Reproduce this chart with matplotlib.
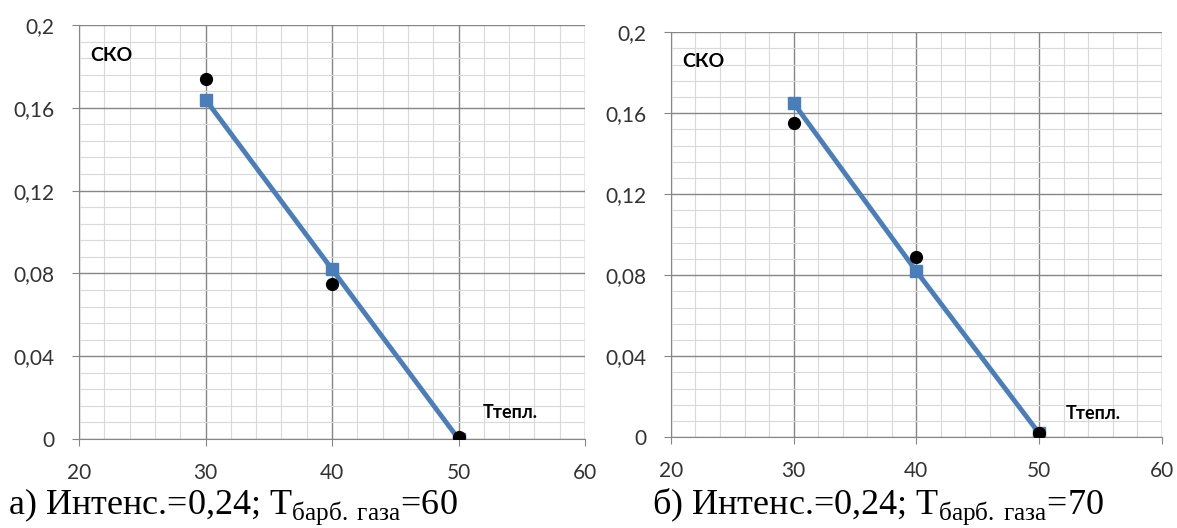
import numpy as np
import matplotlib.pyplot as plt
from matplotlib.ticker import MultipleLocator, FixedLocator

plt.rcParams['font.family'] = ['Lato', 'DejaVu Sans']
plt.rcParams['mathtext.fontset'] = 'custom'
plt.rcParams['mathtext.rm'] = 'Liberation Serif'

# data
x_temp = [30, 40, 50]
fit_a = [0.164, 0.082, 0.0]
meas_a = [0.174, 0.075, 0.001]
fit_b = [0.165, 0.082, 0.002]
meas_b = [0.155, 0.089, 0.002]

yticks = [0, 0.04, 0.08, 0.12, 0.16, 0.2]
ylabels = ['0', '0,04', '0,08', '0,12', '0,16', '0,2']
xticks = [20, 30, 40, 50, 60]

captions = [r'а) Интенс.=0,24; Т$_{\mathrm{барб.}\,\mathrm{газа}}$=60',
            r'б) Интенс.=0,24; Т$_{\mathrm{барб.}\,\mathrm{газа}}$=70']

fig = plt.figure(figsize=(11.77, 5.28), dpi=100)
ax_a = fig.add_axes([0.0671, 0.1686, 0.430, 0.784])
ax_b = fig.add_axes([0.570, 0.172, 0.417, 0.767])

blue = '#4a7ebb'

def draw(ax, fit, meas, lbl_pos):
    ax.set_xlim(20, 60)
    ax.set_ylim(0, 0.2)
    ax.xaxis.set_major_locator(FixedLocator(xticks))
    ax.xaxis.set_minor_locator(MultipleLocator(2))
    ax.yaxis.set_major_locator(FixedLocator(yticks))
    ax.yaxis.set_minor_locator(MultipleLocator(0.008))
    ax.set_yticklabels(ylabels)
    ax.grid(which='minor', color='#d9d9d9', lw=0.8)
    ax.grid(which='major', color='#868686', lw=1.0)
    ax.set_axisbelow(True)
    for s in ['top', 'right']:
        ax.spines[s].set_visible(False)
    for s in ['left', 'bottom']:
        ax.spines[s].set_color('#868686')
    ax.tick_params(which='major', length=5, color='#868686', labelsize=15,
                   labelcolor='#333333')
    ax.tick_params(axis='x', pad=12)
    ax.tick_params(axis='y', pad=12.5)
    ax.tick_params(which='minor', length=0)
    ax.plot(x_temp, fit, color=blue, lw=3.5, marker='s', ms=9, zorder=3)
    ax.plot(x_temp, meas, 'o', color='black', ms=8.5, zorder=4)
    ax.text(20.9, 0.1855, 'СКО', fontsize=14, fontweight='bold', va='center')
    ax.text(lbl_pos[0], lbl_pos[1], 'Ттепл.', fontsize=13, fontweight='bold',
            va='center')

draw(ax_a, fit_a, meas_a, (51.9, 0.0126))
draw(ax_b, fit_b, meas_b, (52.2, 0.0119))

fig.text(0.007, 0.027, captions[0], fontsize=26, family='Liberation Serif',
         va='baseline')
fig.text(0.554, 0.027, captions[1], fontsize=26, family='Liberation Serif',
         va='baseline')

fig.savefig('out.png', dpi=100)
